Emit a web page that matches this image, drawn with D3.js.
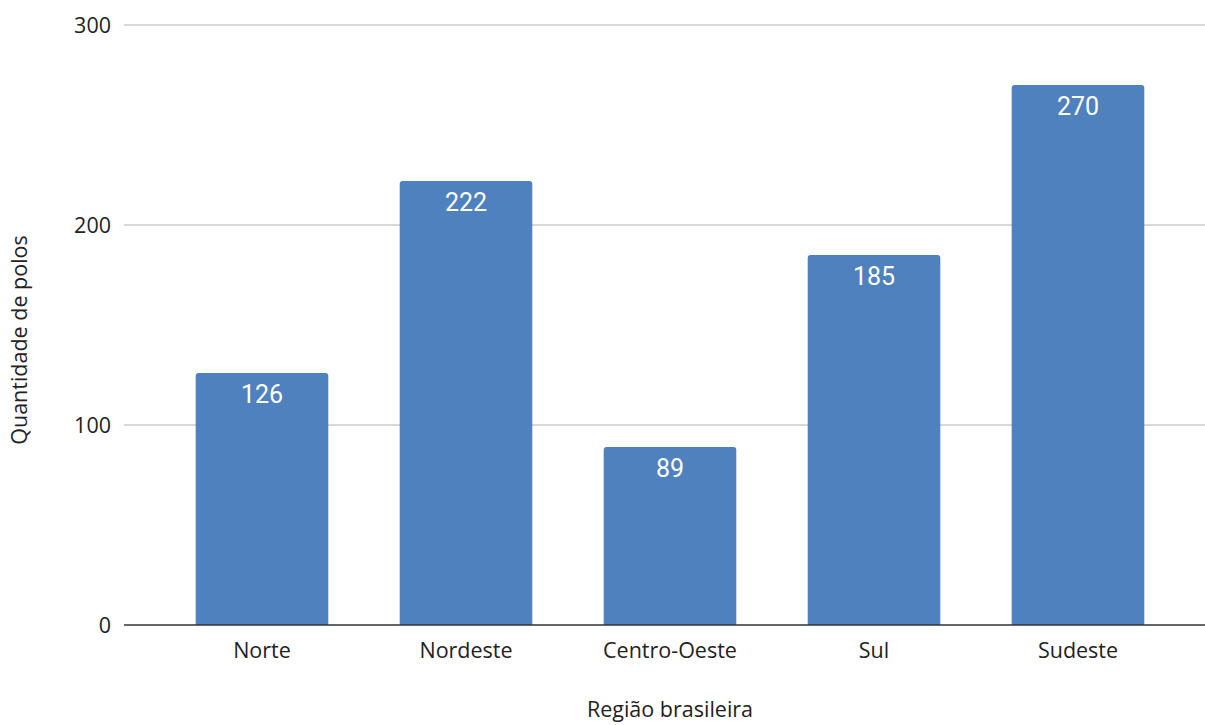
<!DOCTYPE html>
<html>
<head>
<meta charset="utf-8">
<script src="https://cdn.jsdelivr.net/npm/d3@7"></script>
<style>
  body { margin: 0; background: #fff; }
</style>
</head>
<body>
<div id="chart"></div>
<script>
// Dados
const regioes = ["Norte", "Nordeste", "Centro-Oeste", "Sul", "Sudeste"];
const polos = [126, 222, 89, 185, 270];
const yTicks = [0, 100, 200, 300];

const width = 1205, height = 725;
const svg = d3.select("#chart").append("svg")
    .attr("width", width)
    .attr("height", height)
    .style("display", "block");

const x = d3.scaleBand().domain(regioes).range([160, 1180])
    .paddingInner(0.35).paddingOuter(0.175);
const y = d3.scaleLinear().domain([0, 300]).range([625, 25]);

const font = "'Open Sans', sans-serif";
const fs = "21.5px";

// Grade
svg.append("g")
    .selectAll("line")
    .data(yTicks.filter(d => d > 0))
    .enter().append("line")
    .attr("x1", 124).attr("x2", 1205)
    .attr("y1", d => y(d)).attr("y2", d => y(d))
    .attr("stroke", "#cccccc")
    .attr("stroke-width", 1.5);

// Rótulos do eixo Y
svg.append("g")
    .selectAll("text")
    .data(yTicks)
    .enter().append("text")
    .attr("x", 111)
    .attr("y", d => y(d) + 8)
    .attr("text-anchor", "end")
    .style("font-family", font)
    .style("font-size", fs)
    .style("fill", "#222")
    .text(d => d);

// Barras com cantos superiores arredondados
const r = 3;
function barPath(d, i) {
    const x0 = x(regioes[i]), w = x.bandwidth();
    const yt = y(d), yb = y(0);
    return `M${x0},${yb} V${yt + r} Q${x0},${yt} ${x0 + r},${yt} H${x0 + w - r} Q${x0 + w},${yt} ${x0 + w},${yt + r} V${yb} Z`;
}
svg.append("g")
    .selectAll("path")
    .data(polos)
    .enter().append("path")
    .attr("d", barPath)
    .attr("fill", "#4e81bd");

// Valores dentro das barras
svg.append("g")
    .selectAll("text")
    .data(polos)
    .enter().append("text")
    .attr("x", (d, i) => x(regioes[i]) + x.bandwidth() / 2)
    .attr("y", d => y(d) + 30)
    .attr("text-anchor", "middle")
    .style("font-family", "Roboto, sans-serif")
    .style("font-size", "25px")
    .style("fill", "#fff")
    .text(d => d);

// Linha de base
svg.append("line")
    .attr("x1", 124).attr("x2", 1205)
    .attr("y1", y(0)).attr("y2", y(0))
    .attr("stroke", "#333")
    .attr("stroke-width", 1.5);

// Rótulos do eixo X
svg.append("g")
    .selectAll("text")
    .data(regioes)
    .enter().append("text")
    .attr("x", d => x(d) + x.bandwidth() / 2)
    .attr("y", 658)
    .attr("text-anchor", "middle")
    .style("font-family", font)
    .style("font-size", fs)
    .style("fill", "#222")
    .text(d => d);

// Títulos dos eixos
svg.append("text")
    .attr("x", 670)
    .attr("y", 717)
    .attr("text-anchor", "middle")
    .style("font-family", font)
    .style("font-size", fs)
    .style("fill", "#222")
    .text("Região brasileira");

svg.append("text")
    .attr("transform", "translate(27,340) rotate(-90)")
    .attr("text-anchor", "middle")
    .style("font-family", font)
    .style("font-size", fs)
    .style("fill", "#222")
    .text("Quantidade de polos");
</script>
</body>
</html>
